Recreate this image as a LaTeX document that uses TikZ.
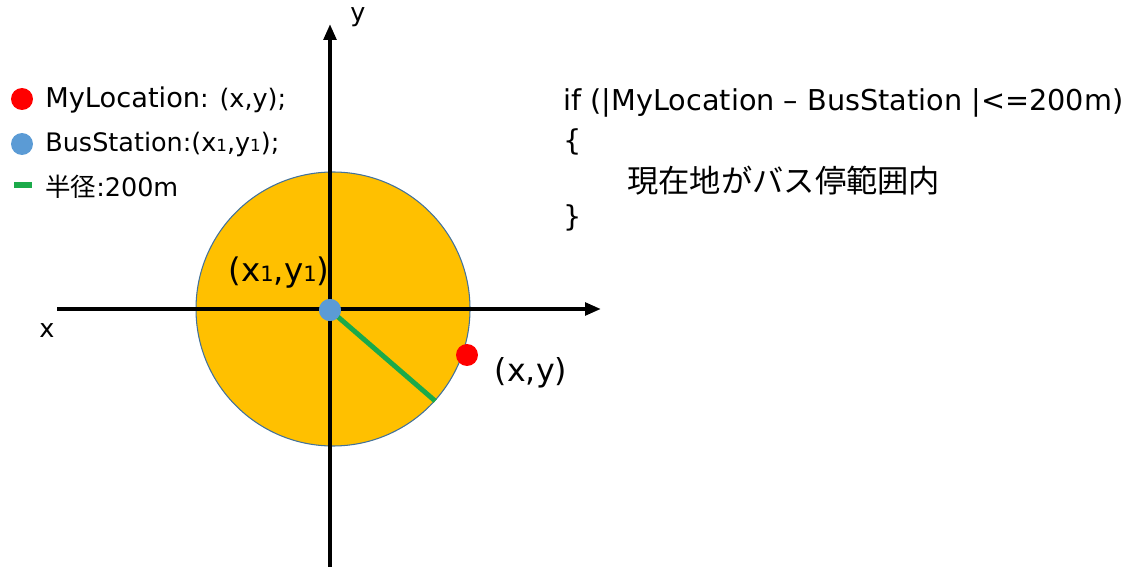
\documentclass[tikz,border=0pt]{standalone}
\usepackage{fontspec}
\setmainfont{DejaVu Sans}
\newfontfamily\jpfont{Noto Sans CJK JP}
\usepackage{tikz}
\usetikzlibrary{arrows.meta, positioning}
\definecolor{zonefill}{HTML}{FFC000}
\definecolor{zoneline}{HTML}{41719C}
\definecolor{busblue}{HTML}{5B9BD5}
\definecolor{mered}{HTML}{FF0000}
\definecolor{radgreen}{HTML}{1BAA4A}
\newcommand{\lowidx}[2]{{\fontsize{#1}{#1}\selectfont #2}}

\begin{document}
\begin{tikzpicture}[x=0.02cm, y=-0.02cm,
    axis/.style={line width=2.3pt, -{Triangle[length=9pt, width=7pt]}},
    dot/.style={circle, inner sep=0, minimum size=12.5pt},
    lbl/.style={font=\fontsize{14.5}{16}\selectfont, inner sep=0},
    code/.style={font=\fontsize{16.35}{18}\selectfont, inner sep=0, anchor=west}]
    \useasboundingbox (0,0) rectangle (1143,567);

    % Range circle
    \node[circle, fill=zonefill, draw=zoneline, line width=0.6pt, minimum size=274*0.02cm, inner sep=0] (zone) at (333,309) {};

    % Axes
    \coordinate (xleft) at (57,309);
    \coordinate (xright) at (601,309);
    \coordinate (ybot) at (330,567);
    \coordinate (ytop) at (330,24);
    \draw[axis] (xleft) -- (xright);
    \draw[axis] (ybot) -- (ytop);
    \node[lbl] (xname) at (47,331) {x};
    \node[lbl] (yname) at (358,17) {y};

    % Radius and points
    \coordinate (rim) at (zone.-42.6);
    \node[dot, fill=busblue] (bus) at (330,310) {};
    \draw[radgreen, line width=2.8pt] (bus.center) -- (rim);
    \node[dot, fill=busblue] at (bus) {};
    \node[dot, fill=mered] (me) at (467,355) {};
    \node[lbl, font=\fontsize{18.5}{20}\selectfont] (buspos) at (279,273) {(x\lowidx{12}{1},y\lowidx{12}{1})};
    \node[lbl, font=\fontsize{18}{20}\selectfont] (mepos) at (531,373) {(x,y)};

    % Legend
    \node[dot, fill=mered] (keyme) at (22,99) {};
    \node[lbl, anchor=west] (keymetxt) at (45,100) {{\fontsize{15.5}{16}\selectfont MyLocation}: (x,y);};
    \node[dot, fill=busblue] (keybus) at (22,144) {};
    \node[lbl, anchor=west] (keybustxt) at (45,144) {BusStation:(x\lowidx{9.5}{1},y\lowidx{9.5}{1});};
    \coordinate (keyrada) at (14,185);
    \coordinate (keyradb) at (32,185);
    \draw[radgreen, line width=3pt] (keyrada) -- (keyradb);
    \node[lbl, anchor=west] (keyradtxt) at (45,187) {{\jpfont 半径}:200m};

    % Condition
    \node[code] (cond) at (563,103) {if (|MyLocation – BusStation |<=200m)};
    \node[code] (open) at (563,142) {\{};
    \node[code, font=\fontsize{17.8}{20}\selectfont\jpfont] (body) at (627,181) {現在地がバス停範囲内};
    \node[code] (close) at (563,218) {\}};
\end{tikzpicture}
\end{document}
